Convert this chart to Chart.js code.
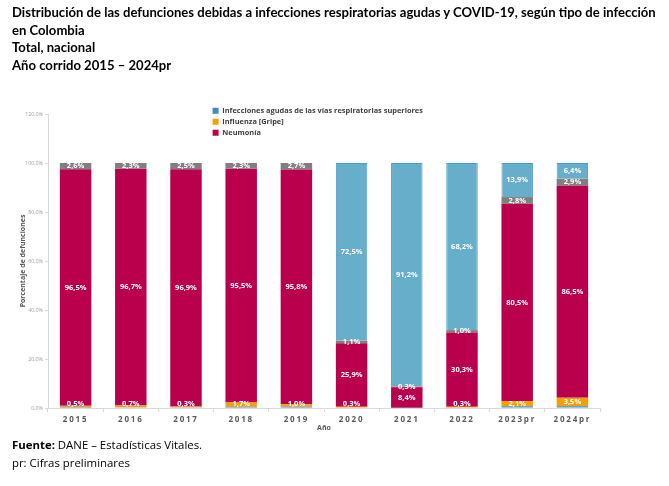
<!DOCTYPE html>
<html lang="es">
<head>
<meta charset="utf-8">
<title>Defunciones por infecciones respiratorias agudas y COVID-19</title>
<script src="https://cdn.jsdelivr.net/npm/chart.js@4.4.1/dist/chart.umd.min.js"></script>
<style>
  html, body { margin: 0; padding: 0; background: #fff; }
  body { width: 669px; height: 486px; position: relative; overflow: hidden; }
  #wrap { position: absolute; left: 0; top: 0; width: 669px; height: 486px; }
  .title { position: absolute; left: 12px; top: 4px; font: bold 13.1px Lato, sans-serif; line-height: 17.7px; color: #000; white-space: nowrap; }
  .footer { position: absolute; left: 12px; top: 436px; font: 11.4px "Open Sans", sans-serif; line-height: 18px; color: #000; }
</style>
</head>
<body>
<div id="wrap"><canvas id="chart"></canvas></div>
<div class="title">
  Distribución de las defunciones debidas a infecciones respiratorias agudas y COVID-19, según tipo de infección<br>
  en Colombia<br>
  Total, nacional<br>
  Año corrido 2015 – 2024pr
</div>
<div class="footer"><b>Fuente:</b> DANE – Estadísticas Vitales.<br>pr: Cifras preliminares</div>
<script>
const years = ["2015", "2016", "2017", "2018", "2019", "2020", "2021", "2022", "2023pr", "2024pr"];
const iraSuperiores = [0.4, 0.3, 0.3, 0.5, 0.5, 0.2, 0.1, 0.2, 0.7, 0.7];
const influenza = [0.5, 0.7, 0.3, 1.7, 1.0, 0.3, 0.0, 0.3, 2.1, 3.5];
const neumonia = [96.5, 96.7, 96.9, 95.5, 95.8, 25.9, 8.4, 30.3, 80.5, 86.5];
const otras = [2.6, 2.3, 2.5, 2.3, 2.7, 1.1, 0.3, 1.0, 2.8, 2.9];
const covid = [0, 0, 0, 0, 0, 72.5, 91.2, 68.2, 13.9, 6.4];
const yTicks = [0, 20, 40, 60, 80, 100, 120];

const formatPct = (v) => `${v.toFixed(1).replace(".", ",")}%`;

// white value labels in the middle of each segment, kept above the axis for thin ones
const segmentLabels = {
  id: "segmentLabels",
  afterDatasetsDraw(chart) {
    const { ctx, chartArea } = chart;
    ctx.save();
    ctx.font = "bold 7.5px 'Open Sans'";
    ctx.fillStyle = "#ffffff";
    ctx.textAlign = "center";
    ctx.textBaseline = "middle";
    chart.data.datasets.forEach((ds, i) => {
      if (!ds.showValues) return;
      chart.getDatasetMeta(i).data.forEach((bar, j) => {
        const v = ds.data[j];
        if (!v) return;
        const y = Math.min((bar.y + bar.base) / 2, chartArea.bottom - 4.5);
        ctx.fillText(formatPct(v), bar.x, y);
      });
    });
    ctx.restore();
  },
};

// legend sits inside the plot, above the 2018-2020 bars
const legendSpot = {
  id: "legendSpot",
  afterLayout(chart) {
    const lg = chart.legend;
    if (!lg) return;
    lg.left = 209;
    lg.right = 209 + lg.width;
    lg.top = 103.5;
    lg.bottom = 103.5 + lg.height;
  },
};

const spaceOutLabels = (scale) => {
  if (scale._spaced) return;
  scale._spaced = true;
  const base = Object.getPrototypeOf(scale).drawLabels;
  scale.drawLabels = function (area) {
    this.ctx.save();
    this.ctx.letterSpacing = "1.8px";
    base.call(this, area);
    this.ctx.restore();
  };
};

new Chart(document.getElementById("chart"), {
  type: "bar",
  data: {
    labels: years,
    datasets: [
      { label: "Infecciones agudas de las vías respiratorias superiores", data: iraSuperiores, backgroundColor: "#3A8DBF", borderWidth: 0 },
      { label: "Influenza [Gripe]", data: influenza, backgroundColor: "#F4A000", borderWidth: 0, showValues: true },
      { label: "Neumonía", data: neumonia, backgroundColor: "#BA004C", borderWidth: 0, showValues: true },
      { label: "Otras", data: otras, backgroundColor: "#7F7F7F", borderWidth: 0, showValues: true },
      { label: "COVID-19", data: covid, backgroundColor: "#66AECA", borderColor: "#4A9EC3", borderWidth: 1, showValues: true },
    ],
  },
  options: {
    responsive: true,
    maintainAspectRatio: false,
    animation: false,
    barPercentage: 0.57,
    categoryPercentage: 1,
    layout: { padding: { left: 0, right: 69, top: 114, bottom: 51 } },
    plugins: {
      tooltip: { enabled: false },
      legend: {
        position: "chartArea",
        align: "start",
        labels: {
          boxWidth: 6,
          boxHeight: 6,
          padding: 3.6,
          color: "#404040",
          font: { family: "'Open Sans'", size: 7.4, weight: "bold" },
          filter: (item) => item.datasetIndex < 3,
        },
      },
    },
    scales: {
      x: {
        stacked: true,
        afterFit: (scale) => {
          scale.height = 27;
          spaceOutLabels(scale);
        },
        grid: { drawOnChartArea: false, color: "#D9D9D9", tickLength: 4 },
        border: { color: "#D9D9D9" },
        ticks: { color: "#595959", padding: 3, font: { family: "'Open Sans'", size: 8, weight: "bold" } },
        title: {
          display: true,
          text: "Año",
          color: "#595959",
          font: { family: "'Open Sans'", size: 7, weight: "bold" },
          padding: { top: 0, bottom: 2.8 },
        },
      },
      y: {
        stacked: true,
        min: 0,
        max: 120,
        afterFit: (scale) => { scale.width = 48; },
        afterBuildTicks: (scale) => { scale.ticks = yTicks.map((v) => ({ value: v })); },
        grid: { drawOnChartArea: false, color: "#D9D9D9", tickLength: 3 },
        border: { color: "#D9D9D9" },
        ticks: {
          color: "#A0A0A0",
          padding: 2,
          font: { family: "'Open Sans'", size: 5.3 },
          callback: (v) => formatPct(v),
        },
        title: {
          display: true,
          text: "Porcentaje de defunciones",
          color: "#595959",
          font: { family: "'Open Sans'", size: 7, weight: "bold" },
          padding: { top: 18.8, bottom: 0 },
        },
      },
    },
  },
  plugins: [segmentLabels, legendSpot],
});
</script>
</body>
</html>
